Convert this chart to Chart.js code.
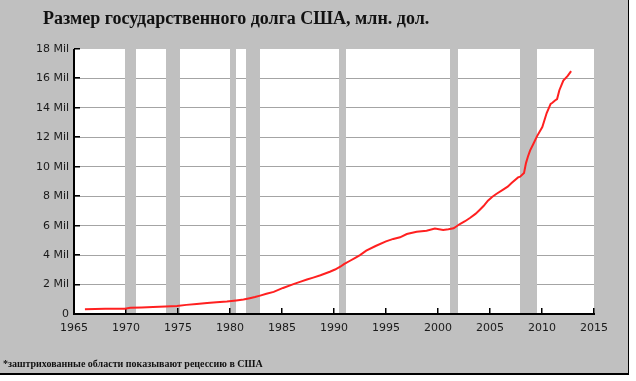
<!DOCTYPE html>
<html>
<head>
<meta charset="utf-8">
<script src="https://cdn.jsdelivr.net/npm/chart.js@4/dist/chart.umd.min.js"></script>
<style>
html,body{margin:0;padding:0;background:#fff;}
#wrap{position:relative;width:636px;height:381px;}
canvas{display:block;}
</style>
</head>
<body>
<div id="wrap"><canvas id="c" width="636" height="381"></canvas></div>
<script>
// ---- data ----
const titleText = "Размер государственного долга США, млн. дол.";
const footnoteText = "*заштрихованные области показывают рецессию в США";

const years = [1966.05, 1968.0, 1969.9, 1970.4, 1971.5, 1972.6, 1973.8, 1974.9, 1975.8, 1976.8, 1977.8, 1978.7, 1979.7,
  1980.6, 1981.3, 1981.9, 1982.4, 1982.9, 1983.5, 1984.2, 1985.1, 1986.1, 1986.8, 1987.4, 1988.0, 1988.7, 1989.6,
  1990.1, 1990.6, 1991.0, 1991.5, 1992.0, 1992.5, 1993.1, 1994.0, 1995.0, 1995.7, 1996.35, 1997.0, 1997.95, 1998.9,
  1999.7, 2000.5, 2001.0, 2001.5, 2002.1, 2002.6, 2003.1, 2003.6, 2004.0, 2004.4, 2004.8, 2005.2, 2005.6, 2006.3,
  2006.7, 2007.1, 2007.7, 2007.9, 2008.27, 2008.46, 2008.65, 2008.85, 2009.2, 2009.5, 2010.03, 2010.45, 2010.83,
  2011.0, 2011.25, 2011.45, 2011.67, 2012.05, 2012.47, 2012.8];
const debt = [0.33, 0.35, 0.36, 0.42, 0.44, 0.47, 0.51, 0.55, 0.62, 0.68, 0.74, 0.80, 0.85,
  0.92, 0.98, 1.07, 1.15, 1.25, 1.37, 1.50, 1.77, 2.03, 2.20, 2.34, 2.47, 2.63, 2.87,
  3.02, 3.21, 3.40, 3.60, 3.80, 4.00, 4.30, 4.62, 4.93, 5.10, 5.21, 5.43, 5.59, 5.66,
  5.80, 5.71, 5.75, 5.82, 6.11, 6.30, 6.54, 6.80, 7.07, 7.35, 7.70, 7.95, 8.15, 8.47,
  8.65, 8.92, 9.28, 9.33, 9.57, 10.25, 10.70, 11.10, 11.60, 12.05, 12.70, 13.65, 14.27,
  14.35, 14.50, 14.60, 15.20, 15.85, 16.17, 16.50];

const recessionStart = [1969.9, 1973.85, 1980.0, 1981.5, 1990.5, 2001.2, 2007.9];
const recessionEnd   = [1970.95, 1975.2, 1980.55, 1982.9, 1991.2, 2001.9, 2009.5];

const xTicks = [1965, 1970, 1975, 1980, 1985, 1990, 1995, 2000, 2005, 2010, 2015];
const yTicks = [0, 2, 4, 6, 8, 10, 12, 14, 16, 18];
const yTickLabels = ["0", "2 Mil", "4 Mil", "6 Mil", "8 Mil", "10 Mil", "12 Mil", "14 Mil", "16 Mil", "18 Mil"];

// ---- plugin for frame, bands, axes, texts ----
const decor = {
  id: 'decor',
  beforeDraw(chart) {
    const ctx = chart.ctx, a = chart.chartArea;
    ctx.save();
    ctx.fillStyle = '#ffffff';
    ctx.fillRect(0, 0, chart.width, chart.height);
    ctx.fillStyle = '#c0c0c0';
    ctx.fillRect(0, 0, 628, 373);
    ctx.fillStyle = '#000000';
    ctx.fillRect(628, 0, 1, 374);
    ctx.fillRect(0, 373, 629, 2);
    ctx.fillStyle = '#ffffff';
    ctx.fillRect(a.left, a.top, a.right - a.left, a.bottom - a.top);
    ctx.restore();
  },
  beforeDatasetsDraw(chart) {
    const ctx = chart.ctx, a = chart.chartArea;
    const xs = chart.scales.x, ys = chart.scales.y;
    ctx.save();
    ctx.fillStyle = '#c0c0c0';
    for (let i = 0; i < recessionStart.length; i++) {
      const x0 = Math.round(xs.getPixelForValue(recessionStart[i]));
      const x1 = Math.round(xs.getPixelForValue(recessionEnd[i]));
      ctx.fillRect(x0, a.top, x1 - x0, a.bottom - a.top);
    }
    // axes
    ctx.fillStyle = '#000000';
    const ax = Math.round(a.left), ay = Math.round(a.bottom);
    ctx.fillRect(ax - 1, Math.round(a.top), 2, ay - Math.round(a.top) + 1);
    ctx.fillRect(ax - 1, ay - 1, Math.round(a.right) - ax + 2, 2);
    // inward ticks
    yTicks.forEach(v => {
      const y = Math.round(ys.getPixelForValue(v));
      ctx.fillRect(ax, y - 1, 6, 1.5);
    });
    xTicks.forEach(v => {
      const x = Math.round(xs.getPixelForValue(v));
      ctx.fillRect(x - 1, ay - 6, 1.5, 6);
    });
    ctx.restore();
  },
  afterDraw(chart) {
    const ctx = chart.ctx;
    ctx.save();
    ctx.fillStyle = '#111111';
    ctx.textBaseline = 'alphabetic';
    ctx.textAlign = 'left';
    ctx.font = 'bold 18px "Liberation Serif", "Times New Roman", serif';
    ctx.fillText(titleText, 43, 24);
    ctx.font = 'bold 10px "Liberation Serif", "Times New Roman", serif';
    ctx.fillText(footnoteText, 3, 367);
    ctx.restore();
  }
};

new Chart(document.getElementById('c'), {
  type: 'line',
  data: {
    datasets: [{
      data: years.map((y, i) => ({ x: y, y: debt[i] })),
      borderColor: '#ff2020',
      borderWidth: 2,
      pointRadius: 0,
      tension: 0,
      fill: false
    }]
  },
  options: {
    responsive: false,
    animation: false,
    devicePixelRatio: 1,
    layout: { padding: { left: 0, top: 49, right: 42, bottom: 0 } },
    plugins: { legend: { display: false }, tooltip: { enabled: false }, title: { display: false } },
    scales: {
      x: {
        type: 'linear', min: 1965, max: 2015,
        afterFit(s) { s.height = 67; },
        afterBuildTicks(s) { s.ticks = xTicks.map(v => ({ value: v })); },
        grid: { display: false, drawTicks: false },
        border: { display: false },
        ticks: {
          padding: 8, color: '#1a1a1a', maxRotation: 0, autoSkip: false,
          font: { family: '"DejaVu Sans", Verdana, sans-serif', size: 11 },
          callback: v => String(v)
        }
      },
      y: {
        type: 'linear', min: 0, max: 18,
        afterFit(s) { s.width = 74; },
        afterBuildTicks(s) { s.ticks = yTicks.map(v => ({ value: v })); },
        grid: {
          drawTicks: false,
          color: ctx => (ctx.tick && ctx.tick.value === 18) ? 'rgba(0,0,0,0)' : '#a4a4a4',
          lineWidth: 1
        },
        border: { display: false },
        ticks: {
          padding: 5, color: '#1a1a1a', autoSkip: false,
          font: { family: '"DejaVu Sans", Verdana, sans-serif', size: 11 },
          callback: v => yTickLabels[yTicks.indexOf(v)]
        }
      }
    }
  },
  plugins: [decor]
});
</script>
</body>
</html>
